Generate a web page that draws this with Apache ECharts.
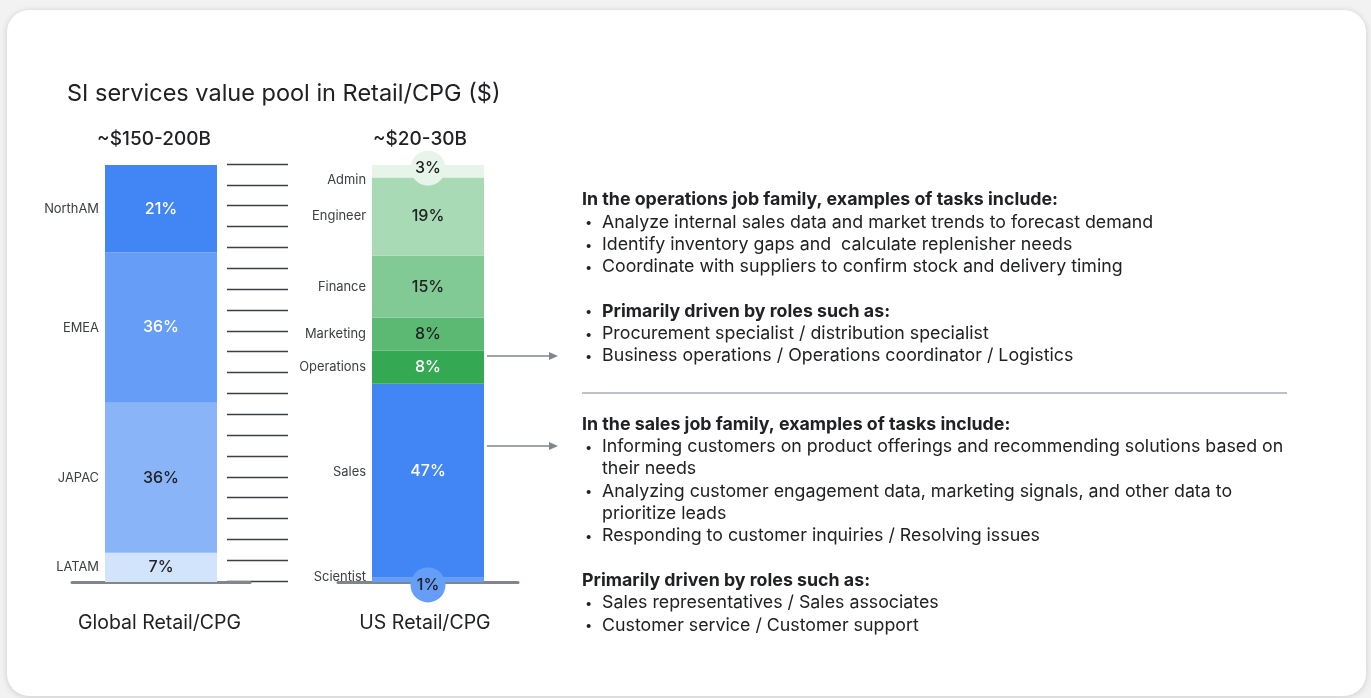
<!DOCTYPE html>
<html>
<head>
<meta charset="utf-8">
<script src="https://cdn.jsdelivr.net/npm/echarts@6/dist/echarts.min.js"></script>
<style>
  html, body { margin: 0; padding: 0; background: #f2f2f2; width: 1371px; height: 698px; overflow: hidden; }
  #card { position: absolute; left: 7px; top: 10px; width: 1359px; height: 686px; background: #fff; border-radius: 22px; box-shadow: 0 1px 6px rgba(0,0,0,0.16); }
  #chart { position: absolute; left: 0; top: 0; width: 1371px; height: 698px; }
</style>
</head>
<body>
<div id="card"></div>
<div id="chart"></div>
<script>
// ---------------- data ----------------
const chartTitle = 'SI services value pool in Retail/CPG ($)';
const barTitles = ['Global Retail/CPG', 'US Retail/CPG'];
const barTotals = ['~$150-200B', '~$20-30B'];

const globalRegions = ['NorthAM', 'EMEA', 'JAPAC', 'LATAM'];
const globalShares = [21, 36, 36, 7];

const usRoles = ['Admin', 'Engineer', 'Finance', 'Marketing', 'Operations', 'Sales', 'Scientist'];
const usShares = [3, 19, 15, 8, 8, 47, 1];

const ladderRungs = 20; // intervals of the scale-break ladder

const opsHeading = 'In the operations job family, examples of tasks include:';
const opsTasks = [
  'Analyze internal sales data and market trends to forecast demand',
  'Identify inventory gaps and  calculate replenisher needs',
  'Coordinate with suppliers to confirm stock and delivery timing'
];
const opsRolesHeading = 'Primarily driven by roles such as:';
const opsRoles = [
  'Procurement specialist / distribution specialist',
  'Business operations / Operations coordinator / Logistics'
];
const salesHeading = 'In the sales job family, examples of tasks include:';
const salesTasks = [
  ['Informing customers on product offerings and recommending solutions based on', 'their needs'],
  ['Analyzing customer engagement data, marketing signals, and other data to', 'prioritize leads'],
  ['Responding to customer inquiries / Resolving issues']
];
const salesRolesHeading = 'Primarily driven by roles such as:';
const salesRoles = [
  'Sales representatives / Sales associates',
  'Customer service / Customer support'
];

// ---------------- styles ----------------
const FONT = 'Inter, Roboto, sans-serif';
const DARK = '#202124';
const globalColors = ['#4285f4', '#669df6', '#8ab4f8', '#d2e3fc'];
const globalValueColors = ['#ffffff', '#ffffff', DARK, DARK];
const usColors = ['#e6f4ea', '#a8dab5', '#81c995', '#5bb974', '#34a853', '#4285f4', '#669df6'];
const usValueColors = [DARK, DARK, DARK, DARK, '#ffffff', '#ffffff', DARK];
const usTweaks = {
  Admin: { badge: true, valueOffset: [0, -3], nameOffset: [0, 9] },
  Sales: { valueOffset: [0, -10], nameOffset: [0, -9] },
  Scientist: { badge: true, valueOffset: [0, 5], nameOffset: [0, -3] }
};

function buildBars(names, values, colors, valueColors, xAxisIndex, yAxisIndex, key, tweaks) {
  const out = [];
  for (let k = names.length - 1; k >= 0; k--) {
    const t = tweaks[names[k]] || {};
    const valueLabel = {
      show: true, position: 'inside', formatter: '{c}%',
      color: valueColors[k], fontSize: 16, fontWeight: 500, fontFamily: FONT,
      offset: t.valueOffset || [0, 0]
    };
    if (t.badge) {
      Object.assign(valueLabel, {
        backgroundColor: colors[k], width: 35, height: 35, lineHeight: 35,
        borderRadius: 17.5, align: 'center', verticalAlign: 'middle', padding: 0
      });
    }
    out.push({
      type: 'bar', name: names[k], xAxisIndex, yAxisIndex, stack: key + 'v',
      barWidth: 112, barGap: '-100%', data: [values[k]],
      itemStyle: { color: colors[k] }, label: valueLabel,
      emphasis: { disabled: true }, z: t.badge ? 4 : 2
    });
    out.push({
      type: 'bar', name: names[k] + ' name', xAxisIndex, yAxisIndex, stack: key + 'n',
      barWidth: 112, barGap: '-100%', data: [values[k]],
      itemStyle: { color: 'rgba(0,0,0,0)' }, silent: true,
      label: {
        show: true, position: 'left', distance: 6, formatter: names[k],
        color: '#3c4043', fontSize: 12.9, fontFamily: FONT,
        offset: t.nameOffset || [0, 0]
      },
      emphasis: { disabled: true }, z: 1
    });
  }
  return out;
}

function bottomAxis(gridIndex, label, shift) {
  return {
    type: 'category', gridIndex, position: 'bottom', data: [label],
    axisLine: { show: true, lineStyle: { color: '#80868b', width: 3 } },
    axisTick: { show: false },
    axisLabel: {
      margin: 31, formatter: '{a|{value}}',
      rich: { a: { fontSize: 19.5, color: DARK, fontFamily: FONT, padding: [0, shift, 0, 0] } }
    }
  };
}
function topAxis(gridIndex, label, shift) {
  return {
    type: 'category', gridIndex, position: 'top', data: [label],
    axisLine: { show: false }, axisTick: { show: false },
    axisLabel: {
      margin: 16, formatter: '{a|{value}}',
      rich: { a: { fontSize: 19, fontWeight: 500, color: DARK, fontFamily: FONT, padding: [0, shift, 0, 0] } }
    }
  };
}

// ---------------- text block ----------------
const graphics = [];
const TX = 582, BX = 585, BTX = 602, STEP = 22.3;
function addText(x, y, text, bold, size) {
  graphics.push({
    type: 'text', x, y, silent: true,
    style: {
      text, fill: DARK, fontFamily: FONT, fontSize: size || 17.8,
      fontWeight: bold ? 700 : 'normal',
      verticalAlign: 'middle', textVerticalAlign: 'middle'
    }
  });
}
function addBullet(y, text, bold) {
  addText(BX, y + 1, '•', false, 13);
  addText(BTX, y, text, bold);
}
let y = 200;
addText(TX, y, opsHeading, true); y += STEP;
opsTasks.forEach(s => { addBullet(y, s); y += STEP; });
y += STEP;
addBullet(y, opsRolesHeading, true); y += STEP;
opsRoles.forEach(s => { addBullet(y, s); y += STEP; });

y = 424.5;
addText(TX, y, salesHeading, true); y += STEP;
salesTasks.forEach(lines => {
  addBullet(y, lines[0]); y += STEP;
  for (let i = 1; i < lines.length; i++) { addText(BTX, y, lines[i]); y += STEP; }
});
y += STEP;
addText(TX, y, salesRolesHeading, true); y += STEP;
salesRoles.forEach(s => { addBullet(y, s); y += STEP; });

// divider
graphics.push({ type: 'line', silent: true, shape: { x1: 582, y1: 393, x2: 1287, y2: 393 }, style: { stroke: '#bdc1c6', lineWidth: 2 } });
// arrows
[356, 446].forEach(ay => {
  graphics.push({ type: 'line', silent: true, shape: { x1: 487, y1: ay, x2: 554, y2: ay }, style: { stroke: '#80868b', lineWidth: 1.5 } });
  graphics.push({ type: 'polygon', silent: true, shape: { points: [[558, ay], [549, ay - 4], [549, ay + 4]] }, style: { fill: '#80868b' } });
});

// ---------------- chart ----------------
const chart = echarts.init(document.getElementById('chart'), null, { renderer: 'canvas' });
chart.setOption({
  backgroundColor: 'transparent',
  animation: false,
  title: {
    text: chartTitle, left: 62, top: 77,
    textStyle: { fontSize: 23.5, fontWeight: 'normal', color: DARK, fontFamily: FONT }
  },
  grid: [
    { left: 72, top: 165, width: 178, height: 417 },
    { left: 338, top: 165, width: 180, height: 417 },
    { left: 227, top: 164, width: 61, height: 417 }
  ],
  xAxis: [
    bottomAxis(0, barTitles[0], 3),
    topAxis(0, barTotals[0], 14),
    bottomAxis(1, barTitles[1], 6),
    topAxis(1, barTotals[1], 16),
    { type: 'value', gridIndex: 2, min: 0, max: 1, show: false }
  ],
  yAxis: [
    { type: 'value', gridIndex: 0, min: 0, max: 'dataMax', show: false },
    { type: 'value', gridIndex: 1, min: 0, max: 'dataMax', show: false },
    {
      type: 'value', gridIndex: 2, min: 0, max: ladderRungs, interval: 1,
      axisLine: { show: false }, axisTick: { show: false }, axisLabel: { show: false },
      splitLine: { show: true, lineStyle: { color: '#3c4043', width: 1.3 } }
    }
  ],
  series: [
    ...buildBars(globalRegions, globalShares, globalColors, globalValueColors, 0, 0, 'g', {}),
    ...buildBars(usRoles, usShares, usColors, usValueColors, 2, 1, 'u', usTweaks)
  ],
  graphic: graphics
});
</script>
</body>
</html>
